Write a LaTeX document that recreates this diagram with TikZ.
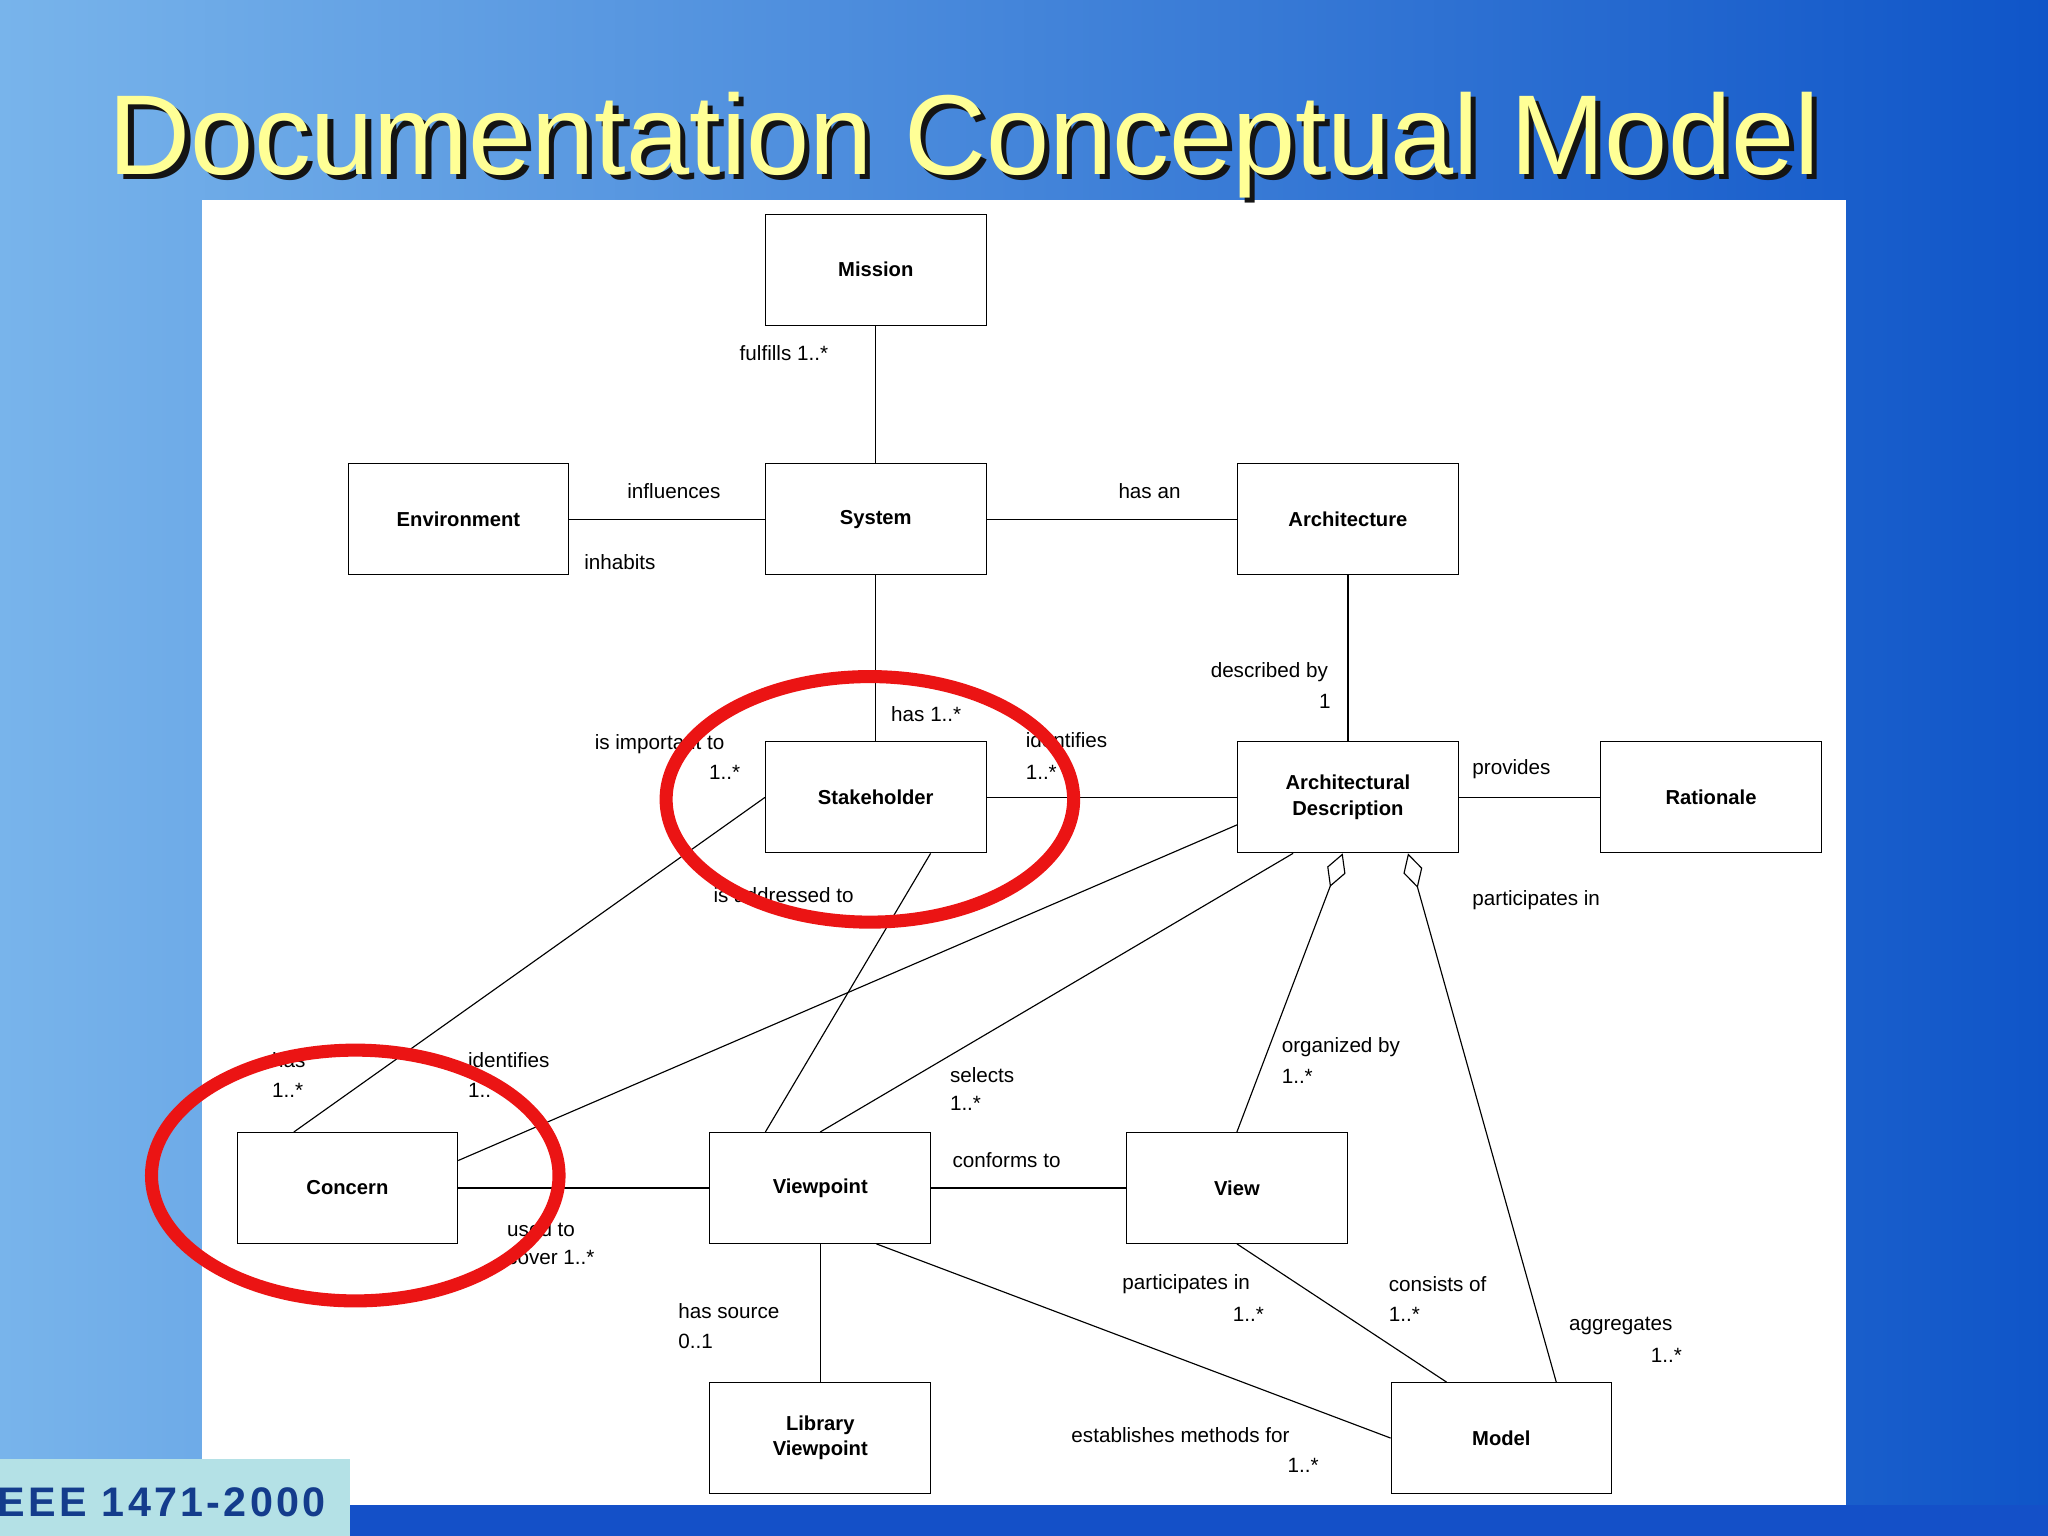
\documentclass[tikz,border=0pt]{standalone}
\usepackage{fontspec}
\setmainfont{Liberation Sans}
\usetikzlibrary{calc,arrows.meta}
\definecolor{bgl}{RGB}{120,180,235}
\definecolor{bgr}{RGB}{15,85,200}
\definecolor{band}{RGB}{20,80,200}
\definecolor{shad}{RGB}{20,20,20}
\definecolor{ttl}{RGB}{255,255,150}
\definecolor{ieebg}{RGB}{180,225,230}
\definecolor{ieetx}{RGB}{20,60,140}
\definecolor{ringc}{RGB}{235,20,20}
\begin{document}
\begin{tikzpicture}[x=0.02cm,y=-0.02cm,
 box/.style={draw,thin,minimum width=3.38cm,minimum height=1.7cm,font=\fontsize{8.8}{11}\selectfont\bfseries,align=center,inner sep=1pt},
 lbl/.style={anchor=west,font=\fontsize{9}{10}\selectfont,inner sep=0pt},
 lblr/.style={anchor=east,font=\fontsize{9}{10}\selectfont,inner sep=0pt},
 ln/.style={draw,line width=0.5pt},
 ring/.style={draw=ringc,line width=0.2cm}]
\useasboundingbox (0,0) rectangle (1568,1176);
\shade[left color=bgl,right color=bgr] (0,0) rectangle (1568,1176);
\fill[band] (0,1152) rectangle (1568,1176);
\fill[white] (155,153) rectangle (1413,1152);
\node[anchor=west,font=\fontsize{49.5}{58}\selectfont,text=shad,inner sep=0pt] (tshadow) at (87,115) {Documentation Conceptual Model};
\node[anchor=west,font=\fontsize{49.5}{58}\selectfont,text=ttl,inner sep=0pt] (title) at (83,111) {Documentation Conceptual Model};
\fill[ieebg] (0,1117) rectangle (268,1176);
\node[anchor=west,font=\fontsize{18}{20}\selectfont\bfseries\addfontfeature{LetterSpace=8},text=ieetx,inner sep=0pt] (ieee) at (-2,1150) {EEE 1471-2000};

\node[box] (mission) at (670.5,206.5) {Mission};
\node[box] (env) at (351,397.5) {Environment};
\node[box] (sys) at (670.5,397.5) {System};
\node[box] (arch) at (1032,397.5) {Architecture};
\node[box] (stake) at (670.5,610.5) {Stakeholder};
\node[box] (ad) at (1032,610.5) {Architectural\\Description};
\node[box] (rat) at (1310,610.5) {Rationale};
\node[box] (concern) at (266,909.5) {Concern};
\node[box] (vp) at (628,909.5) {Viewpoint};
\node[box] (view) at (947,909.5) {View};
\node[box] (lib) at (628,1101) {Library\\Viewpoint};
\node[box] (model) at (1149.5,1101) {Model};

\draw[ln] (mission) -- (sys);
\draw[ln] (env) -- (sys);
\draw[ln] (sys) -- (arch);
\draw[ln] (sys) -- (stake);
\draw[ln] (arch) -- (ad);
\draw[ln] (stake) -- (ad);
\draw[ln] (ad) -- (rat);
\draw[ln] (stake.west) -- ($(concern.north)+(-41,0)$);
\draw[ln] ($(stake.south)+(42,0)$) -- ($(vp.north)+(-42,0)$);
\draw[ln] ($(ad.west)+(0,21)$) -- ($(concern.east)+(0,-21)$);
\draw[ln] ($(ad.south)+(-42,0)$) -- (vp.north);
\draw[ln,{Diamond[open,length=0.55cm,width=0.3cm]}-] ($(ad.south)+(-4,0)$) -- (view.north);
\draw[ln,{Diamond[open,length=0.55cm,width=0.3cm]}-] ($(ad.south)+(46,0)$) -- ($(model.north)+(42,0)$);
\draw[ln] (concern) -- (vp);
\draw[ln] (vp) -- (view);
\draw[ln] (vp) -- (lib);
\draw[ln] ($(vp.south)+(43,0)$) -- (model.west);
\draw[ln] (view.south) -- ($(model.north)+(-42,0)$);

\node[lbl] (l1) at (566,270) {fulfills 1..*};
\node[lbl] (l2) at (480,376) {influences};
\node[lbl] (l3) at (447,430) {inhabits};
\node[lbl] (l4) at (856,376) {has an};
\node[lblr] (l5) at (1017,515) {described by};
\node[lblr] (l6) at (1019,537) {1};
\node[lbl] (l7) at (682,547) {has 1..*};
\node[lbl] (l8) at (455,570) {is important to};
\node[lblr] (l9) at (567,591) {1..*};
\node[lbl] (l10) at (785,567) {identifies};
\node[lbl] (l11) at (785,591) {1..*};
\node[lbl] (l12) at (1127,589) {provides};
\node[lbl] (l13) at (1127,689) {participates in};
\node[lbl] (l14) at (546,685) {is addressed to};
\node[lbl] (l15) at (208,812) {has};
\node[lbl] (l16) at (208,835) {1..*};
\node[lbl] (l17) at (358,812) {identifies};
\node[lbl] (l18) at (358,835) {1..*};
\node[lbl] (l19) at (727,823) {selects};
\node[lbl] (l20) at (727,845) {1..*};
\node[lbl] (l21) at (981,802) {organized by};
\node[lbl] (l22) at (981,824) {1..*};
\node[lbl] (l23) at (729,888) {conforms to};
\node[lbl] (l24) at (388,941) {used to};
\node[lbl] (l25) at (388,963) {cover 1..*};
\node[lbl] (l26) at (519,1004) {has source};
\node[lbl] (l27) at (519,1027) {0..1};
\node[lbl] (l28) at (859,983) {participates in};
\node[lblr] (l29) at (968,1006) {1..*};
\node[lbl] (l30) at (1063,983) {consists of};
\node[lbl] (l31) at (1063,1006) {1..*};
\node[lbl] (l32) at (1201,1015) {aggregates};
\node[lblr] (l33) at (1288,1038) {1..*};
\node[lbl] (l34) at (820,1099) {establishes methods for};
\node[lblr] (l35) at (1010,1122) {1..*};

\draw[ring] (666,612) ellipse [x radius=156,y radius=94];
\draw[ring] (272,900) ellipse [x radius=156,y radius=96];
\end{tikzpicture}
\end{document}
